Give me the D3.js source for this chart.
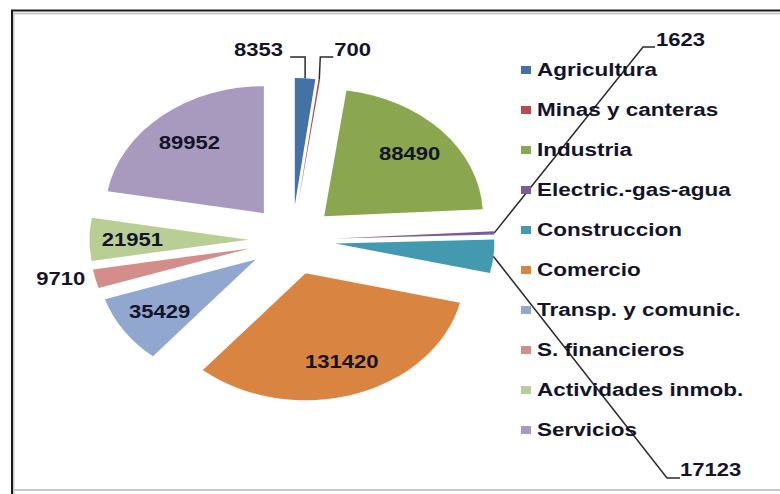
<!DOCTYPE html>
<html>
<head>
<meta charset="utf-8">
<script src="https://cdn.jsdelivr.net/npm/d3@7"></script>
<style>
  body { margin: 0; background: #fff; }
  svg { display: block; }
  text { font-family: "Liberation Sans", Arial, sans-serif; font-weight: bold; fill: #141428; }
</style>
</head>
<body>
<div id="chart"></div>
<script>
// --- donnees ---
const categories = ["Agricultura", "Minas y canteras", "Industria", "Electric.-gas-agua",
  "Construccion", "Comercio", "Transp. y comunic.", "S. financieros",
  "Actividades inmob.", "Servicios"];
const values = [8353, 700, 88490, 1623, 17123, 131420, 35429, 9710, 21951, 89952];
const colors = ["#4472a7", "#b94b48", "#8aa64e", "#7a5c99", "#4299b0",
  "#da8441", "#91a7cf", "#d38e8c", "#b9ce94", "#a89abf"];

const width = 780, height = 494;
const sx = 1.25;            // image etiree horizontalement
const cx = 292, cy = 240;   // centre du camembert
const radius = 127, explode = 35;

const svg = d3.select("#chart").append("svg")
  .attr("width", width).attr("height", height);

// cadre
svg.append("rect").attr("x", 0).attr("y", 0).attr("width", width).attr("height", height).attr("fill", "#fff");
svg.append("path").attr("d", `M13.5,${height} V13.5 H${width}`).attr("fill", "none").attr("stroke", "#c8c8c8").attr("stroke-width", 2);
svg.append("path").attr("d", `M12,${height} V10.5 H${width}`).attr("fill", "none").attr("stroke", "#1a1a1a").attr("stroke-width", 2);
svg.append("line").attr("x1", 14).attr("x2", width).attr("y1", 490).attr("y2", 490).attr("stroke", "#c8c8c8").attr("stroke-width", 2);

// --- camembert ---
const pie = d3.pie().sort(null).value(d => d)(values);
const arc = d3.arc().innerRadius(0).outerRadius(radius);

const mid = d => (d.startAngle + d.endAngle) / 2;
// point en coordonnees ecran pour un angle et un rayon, slice eclatee
function pt(d, r) {
  const a = mid(d);
  const ox = explode * Math.sin(a), oy = -explode * Math.cos(a);
  return [cx + sx * (ox + r * Math.sin(a)), cy + oy - r * Math.cos(a)];
}

const gPie = svg.append("g").attr("transform", `translate(${cx},${cy}) scale(${sx},1)`);
gPie.selectAll("path.slice")
  .data(pie)
  .enter().append("path")
  .attr("class", "slice")
  .attr("transform", d => `translate(${explode * Math.sin(mid(d))},${-explode * Math.cos(mid(d))})`)
  .attr("d", arc)
  .attr("fill", (d, i) => colors[i]);

function label(x, y, txt, anchor) {
  svg.append("text")
    .attr("transform", `translate(${x},${y}) scale(${sx * 0.98},1)`)
    .attr("text-anchor", anchor || "middle")
    .attr("dy", "0.36em")
    .style("font-size", "18px")
    .text(txt);
}

// etiquettes interieures
const inside = [2, 5, 6, 8, 9];
inside.forEach(i => {
  const p = pt(pie[i], radius * 0.73);
  label(p[0], p[1], values[i]);
});

// S. financieros : a l'exterieur
{
  const p = pt(pie[7], radius);
  label(p[0] - 10, p[1], values[7], "end");
}

// lignes de rappel
const lineStyle = sel => sel.attr("fill", "none").attr("stroke", "#2a2a2a").attr("stroke-width", 1.5);
{
  const p = pt(pie[0], radius);
  svg.append("path").attr("d", `M${p[0]},${p[1]} V57 H${p[0] - 15}`).call(lineStyle);
  label(p[0] - 22, 50, values[0], "end");
}
{
  const p = pt(pie[1], radius);
  svg.append("path").attr("d", `M${p[0]},${p[1]} L${p[0] + 1},57 H${p[0] + 14}`).call(lineStyle);
  label(p[0] + 15, 50, values[1], "start");
}
{
  const p = pt(pie[3], radius);
  svg.append("path").attr("d", `M${p[0]},${p[1]} L643,47 H655`).call(lineStyle);
  label(656, 40, values[3], "start");
}
{
  const p = pt(pie[4], radius);
  svg.append("path").attr("d", `M${p[0]},${p[1]} L667,478 H680`).call(lineStyle);
  label(680, 470, values[4], "start");
}

// --- legende ---
const legend = svg.append("g").attr("transform", "translate(521,70)");
const item = legend.selectAll("g").data(categories).enter().append("g")
  .attr("transform", (d, i) => `translate(0,${i * 40})`);
item.append("rect").attr("x", 0).attr("y", -4).attr("width", 10).attr("height", 8)
  .attr("fill", (d, i) => colors[i]);
item.append("text")
  .attr("transform", `translate(16,0) scale(${sx},1)`)
  .attr("dy", "0.36em")
  .style("font-size", "18px")
  .text(d => d);
</script>
</body>
</html>
